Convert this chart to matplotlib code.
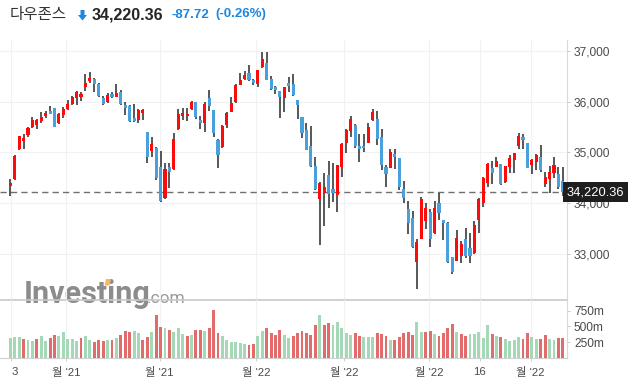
import matplotlib
matplotlib.use("Agg")
import matplotlib.pyplot as plt
from matplotlib.patches import Polygon
import numpy as np

# ---------------- data ----------------
opens = [34347, 34472, 35061, 35232, 35343, 35493, 35533, 35618, 35723, 35814,
         35867, 35572, 35742, 35854, 35952, 36076, 36096, 36293, 36410, 36443,
         36338, 36070, 35991, 36155, 36096, 36181, 35932, 35913, 35680, 35638,
         35782, 35402, 35035, 35087, 34714, 34098, 34714, 34668, 35454, 35723,
         35718, 35860, 35991, 35638, 35572, 36070, 35828, 35251, 35101, 35533,
         35801, 35985, 36332, 36450, 36561, 36424, 36352, 36673, 36751, 36443,
         36286, 36207, 36076, 36365, 36352, 36031, 35697, 35448, 35127, 34734,
         34092, 34210, 34557, 34282, 34157, 34721, 35179, 35421, 35539, 35127,
         35127, 35192, 35638, 35657, 35304, 34714, 34701, 34969, 34891, 34282,
         33889, 33712, 32854, 33306, 33660, 33830, 33411, 34000, 33673, 33614,
         32939, 32874, 32972, 33293, 33116, 33018, 33679, 34013, 34406, 34694,
         34721, 34766, 34419, 34721, 34852, 35133, 35304, 35179, 34760, 34806,
         34904, 34387, 34472, 34590, 34570, 34439]
highs = [34472, 34950, 35330, 35356, 35493, 35690, 35650, 35795, 35814, 35913,
         35880, 35770, 35887, 36031, 36109, 36207, 36194, 36535, 36587, 36456,
         36370, 36109, 36162, 36194, 36352, 36227, 35991, 35932, 35952, 35854,
         35847, 35410, 35310, 35100, 35022, 34793, 34793, 35376, 35847, 35867,
         35873, 36011, 36000, 35716, 35991, 36227, 35840, 35260, 35533, 35801,
         36083, 36352, 36555, 36594, 36712, 36443, 36630, 36967, 36967, 36502,
         36312, 36215, 36293, 36476, 36542, 36040, 35705, 35572, 35513, 34917,
         34426, 34603, 34839, 34786, 34760, 35179, 35454, 35716, 35552, 35356,
         35356, 35572, 35847, 35821, 35454, 34760, 35061, 35061, 34900, 34446,
         34046, 33843, 33293, 34131, 34000, 33896, 34039, 34210, 33680, 33625,
         32945, 33470, 33267, 33522, 33411, 33647, 34105, 34524, 34786, 34825,
         34911, 34775, 34740, 34956, 34996, 35389, 35363, 35192, 34871, 34963,
         35140, 34616, 34734, 34917, 34714, 34714]
lows = [34144, 34459, 35048, 35061, 35310, 35480, 35466, 35572, 35683, 35756,
        35500, 35560, 35670, 35834, 35932, 35933, 36018, 36214, 36371, 36194,
        36096, 35939, 35965, 36063, 36083, 35935, 35736, 35592, 35592, 35585,
        35631, 34786, 34917, 34459, 34033, 34085, 34301, 34655, 35441, 35638,
        35618, 35834, 35651, 35454, 35408, 35821, 35310, 34688, 35090, 35474,
        35790, 35970, 36320, 36424, 36411, 36332, 36280, 36660, 36420, 36227,
        36148, 35670, 35801, 36181, 36115, 35664, 35290, 35042, 34721, 34262,
        33175, 33561, 33902, 34020, 33836, 34524, 34996, 35310, 35094, 34819,
        35015, 35180, 35625, 35140, 34655, 34328, 34688, 34681, 34262, 34000,
        33391, 33116, 32310, 33293, 33489, 33136, 33398, 33673, 33280, 32830,
        32605, 32860, 32834, 32932, 32834, 33005, 33424, 33921, 34314, 34373,
        34710, 34360, 34400, 34590, 34590, 35061, 35074, 34695, 34570, 34655,
        34609, 34321, 34210, 34491, 34282, 34151]
closes = [34393, 34930, 35317, 35284, 35480, 35638, 35631, 35690, 35769, 35762,
          35507, 35756, 35854, 35952, 36083, 36181, 36148, 36371, 36463, 36352,
          36116, 35945, 36129, 36096, 36175, 35952, 35880, 35618, 35625, 35834,
          35825, 34917, 35166, 34504, 34046, 34675, 34609, 35264, 35756, 35775,
          35765, 35991, 35690, 35572, 35959, 35919, 35389, 34950, 35520, 35775,
          35965, 36325, 36417, 36522, 36430, 36365, 36620, 36836, 36430, 36253,
          36227, 36096, 36280, 36312, 36135, 35932, 35389, 35055, 34734, 34288,
          34393, 34321, 34190, 34197, 34747, 35166, 35441, 35657, 35127, 35074,
          35080, 35494, 35801, 35264, 34753, 34577, 35009, 34911, 34328, 34111,
          33620, 33142, 33247, 34085, 33902, 33306, 33902, 33817, 33620, 32841,
          32657, 33313, 33195, 32965, 32972, 33568, 34079, 34491, 34766, 34590,
          34825, 34387, 34727, 34884, 34983, 35317, 35251, 34701, 34845, 34943,
          34662, 34518, 34616, 34747, 34328, 34220.36]
volumes = [308, 324, 324, 302, 275, 259, 292, 340, 259, 308,
           362, 340, 405, 292, 292, 259, 308, 340, 275, 243,
           275, 259, 275, 275, 308, 356, 421, 405, 421, 389,
           275, 324, 405, 680, 486, 470, 437, 405, 470, 373,
           340, 356, 437, 437, 421, 470, 761, 389, 340, 275,
           243, 243, 232, 211, 200, 211, 340, 421, 470, 389,
           356, 437, 356, 308, 340, 389, 421, 389, 356, 518,
           680, 518, 551, 518, 567, 470, 389, 356, 389, 340,
           324, 324, 324, 389, 373, 340, 275, 275, 324, 389,
           405, 356, 567, 405, 405, 421, 373, 340, 389, 470,
           535, 405, 373, 340, 373, 373, 405, 308, 518, 373,
           340, 324, 292, 259, 275, 324, 292, 389, 324, 292,
           292, 356, 292, 275, 308, 308]

price_ticks = [33000, 34000, 35000, 36000, 37000]
volume_ticks = [250, 500, 750]
volume_tick_labels = ["250m", "500m", "750m"]
date_tick_pos = [0.23, 12.7, 33.8, 55.6, 75.6, 94.7, 106.2, 117.7]
date_tick_labels = ["3", "월 '21", "월 '21", "월 '22", "월 '22", "월 '22", "16", "월 '22"]

title_name = "다우존스"
last_price = 34220.36
change = -87.72
change_pct = -0.26

# ---------------- styling ----------------
plt.rcParams['font.family'] = ['Liberation Sans', 'Noto Sans CJK KR', 'DejaVu Sans']

W, H = 632, 388
fig = plt.figure(figsize=(W / 100, H / 100), dpi=100)
fig.patch.set_facecolor('white')

def fx(px):
    return px / W

def fy(py):
    return 1 - py / H

top_px, sep_px, bot_px, right_px = 40, 300, 357.7, 567
ax = fig.add_axes([0, fy(sep_px), fx(right_px), (sep_px - top_px) / H])
vax = fig.add_axes([0, fy(bot_px), fx(right_px), (bot_px - sep_px) / H], sharex=ax)
for a in (ax, vax):
    a.patch.set_visible(False)

n = len(closes)
idx = np.arange(n)
o = np.array(opens, float)
h = np.array(highs, float)
l = np.array(lows, float)
c = np.array(closes, float)
up = c >= o

# price scale: px -> price
p_per_px = 19.65
y_top = 37000 + (50.7 - top_px) * p_per_px
y_bot = 37000 - (sep_px - 50.7) * p_per_px
ax.set_ylim(y_bot, y_top)
ax.set_xlim(-10.3 / 4.42, (right_px - 10.3) / 4.42)

RED = '#ff0a0a'
BLUE = '#4aa0dc'
WICK = '#2a2a2a'

ax.vlines(idx, l, h, color=WICK, lw=1.1, zorder=3)
bottoms = np.minimum(o, c)
heights = np.maximum(np.abs(c - o), 30)
ax.bar(idx, heights, bottom=bottoms, width=0.7,
       color=np.where(up, RED, BLUE), edgecolor='none', zorder=4)

ax.axhline(last_price, color='#707070', lw=1.0, ls=(0, (4.5, 3)), zorder=2)

ax.set_yticks(price_ticks)
ax.set_yticklabels([f"{t:,}" for t in price_ticks])
ax.yaxis.tick_right()
ax.tick_params(axis='y', length=2.5, width=0.7, color='#cccccc', pad=2.5,
               labelsize=8.6, labelcolor='#4a4a4a')
ax.tick_params(axis='x', length=0, labelbottom=False)
ax.grid(True, color='#f1f1f1', lw=0.8, zorder=0)
for s in ('top', 'left'):
    ax.spines[s].set_visible(False)
ax.spines['right'].set_color('#d9d9d9')
ax.spines['bottom'].set_color('#c8c8c8')
ax.spines['bottom'].set_linewidth(1.2)

# last price label box
ax.text(1.0, last_price, f"{last_price:,.2f}", transform=ax.get_yaxis_transform(),
        ha='left', va='center', fontsize=9.3, color='white', zorder=10, clip_on=False,
        bbox=dict(boxstyle='square,pad=0.3', facecolor='#1e1e1e', edgecolor='none'))

# volume
vol_up = np.concatenate([[True], c[1:] >= c[:-1]])
vax.bar(idx, volumes, width=0.66, color=np.where(vol_up, '#a5d8b6', '#e26b6b'),
        edgecolor='none', zorder=3)
vax.set_ylim(0, (bot_px - sep_px) / 47.0 * 750)
vax.set_yticks(volume_ticks)
vax.set_yticklabels(volume_tick_labels)
vax.yaxis.tick_right()
vax.tick_params(axis='y', length=2.5, width=0.7, color='#cccccc', pad=2.5,
                labelsize=8.6, labelcolor='#4a4a4a')
vax.set_xticks(date_tick_pos)
vax.set_xticklabels(date_tick_labels)
vax.tick_params(axis='x', length=2.5, width=0.7, color='#cccccc', pad=4,
                labelsize=8.2, labelcolor='#4a4a4a')
vax.get_xticklabels()[0].set_ha('left')
vax.grid(True, axis='x', color='#f1f1f1', lw=0.8, zorder=0)
for s in ('top', 'left'):
    vax.spines[s].set_visible(False)
vax.spines['right'].set_color('#d9d9d9')
vax.spines['bottom'].set_color('#d0d0d0')

# watermark
fig.text(fx(24), fy(303), "Investing", fontsize=22, fontweight='bold',
         family='Roboto', color='#8c8c8c', ha='left', va='baseline', zorder=-1)
fig.text(fx(147), fy(303), ".com", fontsize=12.5, family='Roboto',
         color='#9a9a9a', ha='left', va='baseline', zorder=-1)
fig.patches.append(Polygon([(fx(104.5), fy(285.5)), (fx(109.5), fy(285.5)),
                            (fx(111), fy(279)), (fx(106), fy(279))],
                           closed=True, transform=fig.transFigure,
                           facecolor='#f6b75e', edgecolor='none', zorder=-0.5))

# header
fig.text(fx(10), fy(14), title_name, family=['Noto Sans CJK KR', 'DejaVu Sans'],
         fontsize=11.2, color='#333333', ha='left', va='center')
fig.patches.append(Polygon([(fx(80.5), fy(10)), (fx(84.5), fy(10)), (fx(84.5), fy(15)),
                            (fx(87), fy(15)), (fx(82.5), fy(20.5)), (fx(78), fy(15)),
                            (fx(80.5), fy(15))],
                           closed=True, transform=fig.transFigure,
                           facecolor='#1a87e3', edgecolor='none'))
fig.text(fx(92), fy(14.5), f"{last_price:,.2f}", fontsize=11.6, fontweight='bold',
         color='#262626', ha='left', va='center')
fig.text(fx(171), fy(14.5), f"{change:.2f}", fontsize=9.5, fontweight='bold',
         color='#1a87e3', ha='left', va='center')
fig.text(fx(215), fy(14.5), f"({change_pct:.2f}%)", fontsize=9.5, fontweight='bold',
         color='#1a87e3', ha='left', va='center')

fig.savefig("out.png", dpi=100, facecolor='white')
